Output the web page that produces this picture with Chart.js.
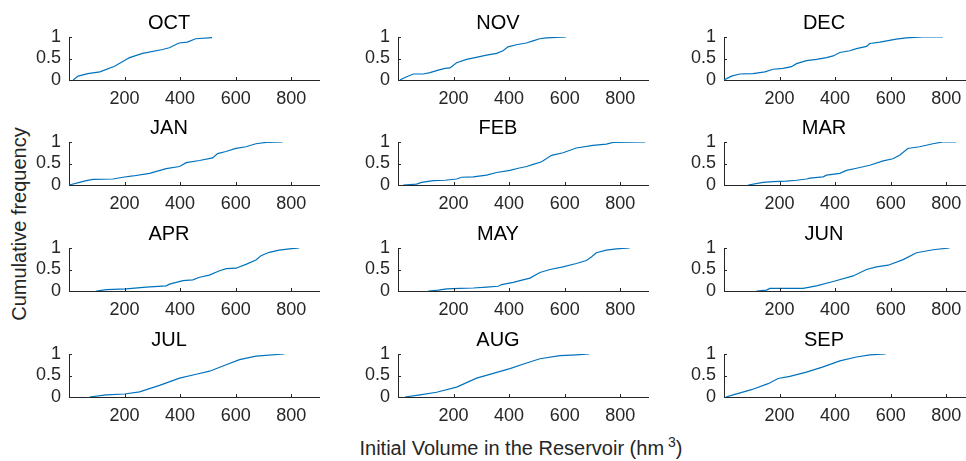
<!DOCTYPE html>
<html>
<head>
<meta charset="utf-8">
<script src="https://cdn.jsdelivr.net/npm/chart.js@4/dist/chart.umd.min.js"></script>
<style>
  html, body { margin: 0; padding: 0; background: #fff; }
  body { width: 966px; height: 461px; position: relative; overflow: hidden; font-family: 'Liberation Sans', Arial, sans-serif; }
  canvas { position: absolute; }
  .lbl { position: absolute; color: #262626; font-size: 20px; white-space: nowrap; }
  #xlabel { left: 521px; top: 447px; transform: translate(-50%, -50%); }
  #ylabel { left: 19px; top: 224px; transform: translate(-50%, -50%) rotate(-90deg); }
  sup { font-size: 14px; margin-left: 4px; }
</style>
</head>
<body>
<div class="lbl" id="ylabel">Cumulative frequency</div>
<div class="lbl" id="xlabel">Initial Volume in the Reservoir (hm<sup>3</sup>)</div>
<script>
const months = ['OCT', 'NOV', 'DEC', 'JAN', 'FEB', 'MAR', 'APR', 'MAY', 'JUN', 'JUL', 'AUG', 'SEP']
const xTicks = [200, 400, 600, 800]
const yTicks = [0, 0.5, 1]

const octVol = [15, 33, 68, 111, 164, 212, 218, 265, 337, 361, 396, 426, 456, 515]
const octFreq = [0, 0.09, 0.15, 0.19, 0.32, 0.5, 0.52, 0.62, 0.71, 0.75, 0.86, 0.88, 0.96, 0.985]
const novVol = [7, 25, 55, 91, 115, 145, 169, 187, 211, 247, 277, 319, 355, 378, 396, 426, 462, 486, 510, 534, 606]
const novFreq = [0, 0.06, 0.14, 0.14, 0.17, 0.23, 0.27, 0.28, 0.4, 0.48, 0.52, 0.58, 0.62, 0.68, 0.77, 0.82, 0.86, 0.91, 0.96, 0.98, 1]
const decVol = [0, 27, 57, 105, 147, 177, 213, 243, 261, 297, 333, 369, 393, 417, 453, 477, 513, 525, 561, 596, 620, 656, 716, 788]
const decFreq = [0, 0.09, 0.14, 0.15, 0.19, 0.25, 0.27, 0.31, 0.38, 0.45, 0.48, 0.52, 0.56, 0.64, 0.68, 0.73, 0.78, 0.85, 0.88, 0.92, 0.95, 0.98, 1, 1]
const janVol = [0, 38, 62, 87, 158, 194, 230, 290, 350, 398, 422, 470, 517, 535, 565, 601, 637, 673, 709, 769]
const janFreq = [0, 0.06, 0.1, 0.13, 0.14, 0.18, 0.21, 0.27, 0.38, 0.43, 0.52, 0.57, 0.63, 0.73, 0.78, 0.85, 0.89, 0.96, 0.99, 1]
const febVol = [19, 67, 85, 127, 169, 211, 229, 271, 319, 355, 403, 433, 463, 487, 517, 553, 594, 642, 702, 750, 774, 891]
const febFreq = [0, 0.02, 0.06, 0.1, 0.11, 0.14, 0.18, 0.19, 0.23, 0.29, 0.34, 0.39, 0.43, 0.48, 0.54, 0.69, 0.75, 0.86, 0.92, 0.95, 0.99, 1]
const marVol = [87, 141, 177, 225, 261, 297, 309, 357, 369, 417, 441, 477, 525, 573, 608, 632, 662, 704, 752, 788, 836]
const marFreq = [0, 0.06, 0.08, 0.09, 0.11, 0.14, 0.16, 0.19, 0.23, 0.27, 0.34, 0.39, 0.46, 0.56, 0.61, 0.69, 0.85, 0.89, 0.96, 1, 1]
const aprVol = [98, 134, 206, 278, 350, 362, 410, 446, 470, 505, 542, 566, 601, 637, 673, 691, 721, 757, 793, 829]
const aprFreq = [0, 0.03, 0.05, 0.09, 0.12, 0.16, 0.24, 0.26, 0.32, 0.37, 0.47, 0.52, 0.53, 0.62, 0.72, 0.82, 0.9, 0.95, 0.98, 1]
const mayVol = [109, 145, 175, 223, 271, 319, 361, 373, 415, 439, 475, 511, 547, 594, 642, 678, 696, 714, 750, 786, 834]
const mayFreq = [0, 0.02, 0.05, 0.06, 0.07, 0.09, 0.11, 0.15, 0.2, 0.24, 0.3, 0.43, 0.5, 0.56, 0.64, 0.71, 0.79, 0.89, 0.95, 0.98, 1]
const junVol = [117, 153, 165, 201, 285, 333, 393, 465, 513, 549, 591, 645, 693, 753, 812]
const junFreq = [0, 0.02, 0.06, 0.06, 0.06, 0.12, 0.22, 0.35, 0.5, 0.56, 0.6, 0.73, 0.89, 0.96, 1]
const julVol = [74, 134, 200, 254, 326, 398, 458, 506, 566, 614, 673, 775]
const julFreq = [0, 0.05, 0.07, 0.12, 0.27, 0.44, 0.53, 0.6, 0.75, 0.87, 0.95, 1]
const augVol = [25, 79, 139, 211, 283, 343, 403, 463, 511, 583, 642, 688]
const augFreq = [0, 0.05, 0.11, 0.23, 0.44, 0.55, 0.66, 0.79, 0.89, 0.96, 0.98, 1]
const sepVol = [7, 33, 99, 159, 195, 237, 297, 357, 417, 477, 525, 582]
const sepFreq = [0, 0.05, 0.17, 0.31, 0.43, 0.48, 0.58, 0.7, 0.84, 0.93, 0.98, 1]

const volumes = [octVol, novVol, decVol, janVol, febVol, marVol, aprVol, mayVol, junVol, julVol, augVol, sepVol]
const freqs = [octFreq, novFreq, decFreq, janFreq, febFreq, marFreq, aprFreq, mayFreq, junFreq, julFreq, augFreq, sepFreq]

// axes boxes in page pixels
const colLeft = [69, 398, 724]
const rowTop = [37, 142, 248, 354]
const AX_W = 250
const AX_H = 43
const FONT = "'Liberation Sans', Arial, sans-serif"
const INK = '#262626'

// MATLAB style tick marks pointing into the axes
const inwardTicks = {
	id: 'inwardTicks',
	afterDraw(chart) {
		const { ctx, chartArea: a, scales } = chart
		ctx.save()
		ctx.strokeStyle = INK
		ctx.lineWidth = 1
		ctx.beginPath()
		scales.x.ticks.forEach((t) => {
			const px = Math.round(scales.x.getPixelForValue(t.value)) + 0.5
			ctx.moveTo(px, a.bottom)
			ctx.lineTo(px, a.bottom - 3)
		})
		scales.y.ticks.forEach((t) => {
			const py = Math.round(scales.y.getPixelForValue(t.value)) + 0.5
			ctx.moveTo(a.left, py)
			ctx.lineTo(a.left + 3, py)
		})
		ctx.stroke()
		ctx.restore()
	},
}

months.forEach((m, i) => {
	const r = Math.floor(i / 3)
	const c = i % 3
	const cv = document.createElement('canvas')
	cv.width = 50 + AX_W + 50
	cv.height = 35 + AX_H + 35
	cv.style.left = (colLeft[c] - 50) + 'px'
	cv.style.top = (rowTop[r] - 35) + 'px'
	document.body.appendChild(cv)

	const pts = volumes[i].map((v, k) => ({ x: v, y: freqs[i][k] }))

	new Chart(cv, {
		type: 'line',
		data: {
			datasets: [{
				data: pts,
				borderColor: '#0072BD',
				borderWidth: 1.2,
				pointRadius: 0,
				tension: 0,
				fill: false,
			}],
		},
		options: {
			responsive: false,
			animation: false,
			layout: { padding: { left: 0, right: 50, top: 0, bottom: 0 } },
			plugins: {
				legend: { display: false },
				tooltip: { enabled: false },
				title: {
					display: true,
					text: m,
					color: '#000',
					font: { family: FONT, size: 20, weight: 'normal' },
					padding: { top: 9, bottom: 2 },
				},
			},
			scales: {
				x: {
					type: 'linear',
					min: 0,
					max: 900,
					afterBuildTicks: (s) => { s.ticks = xTicks.map((v) => ({ value: v })) },
					afterFit: (s) => { s.height = 35 },
					ticks: { color: INK, font: { family: FONT, size: 18 }, padding: 8, maxRotation: 0, autoSkip: false },
					grid: { drawOnChartArea: false, drawTicks: false },
					border: { color: INK, width: 1 },
				},
				y: {
					min: 0,
					max: 1,
					afterBuildTicks: (s) => { s.ticks = yTicks.map((v) => ({ value: v })) },
					afterFit: (s) => { s.width = 50 },
					ticks: {
						color: INK,
						font: { family: FONT, size: 18, lineHeight: 1 },
						padding: 8,
						autoSkip: false,
						callback: (v) => String(v),
					},
					grid: { drawOnChartArea: false, drawTicks: false },
					border: { color: INK, width: 1 },
				},
			},
		},
		plugins: [inwardTicks],
	})
})
</script>
</body>
</html>
